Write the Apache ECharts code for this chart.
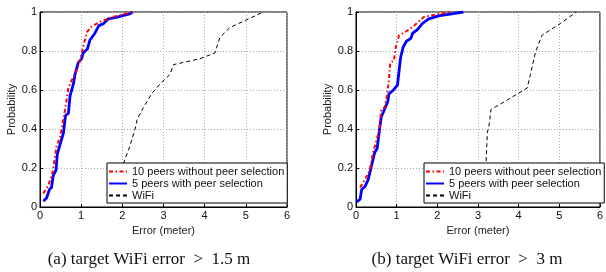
<!DOCTYPE html>
<html><head><meta charset="utf-8">
<script src="https://cdn.jsdelivr.net/npm/echarts@6/dist/echarts.min.js"></script>
<style>html,body{margin:0;padding:0;background:#fff}#c{width:606px;height:272px}</style>
</head><body><div id="c"></div>
<script>
// ---- data ----
const seriesNames = ['10 peers without peer selection', '5 peers with peer selection', 'WiFi'];
const xTicks = [0, 1, 2, 3, 4, 5, 6];
const yTicks = [0, 0.2, 0.4, 0.6, 0.8, 1];
const captions = ['(a) target WiFi error\u2002>\u20021.5 m', '(b) target WiFi error\u2002>\u20023 m'];

// (a) target WiFi error > 1.5 m
const a_peers10 = [[0.08,0.07],[0.2,0.11],[0.31,0.18],[0.4,0.31],[0.49,0.36],[0.61,0.5],[0.69,0.61],[0.77,0.65],[0.87,0.69],[0.97,0.75],[1.07,0.84],[1.15,0.9],[1.25,0.925],[1.46,0.95],[1.78,0.975],[2.06,0.99],[2.25,1.0]];
const a_peers5 = [[0.08,0.03],[0.16,0.046],[0.23,0.09],[0.28,0.1],[0.32,0.16],[0.39,0.19],[0.42,0.27],[0.5,0.33],[0.57,0.38],[0.62,0.47],[0.69,0.48],[0.73,0.57],[0.81,0.63],[0.85,0.68],[0.93,0.74],[1.01,0.76],[1.05,0.79],[1.15,0.81],[1.21,0.855],[1.33,0.89],[1.43,0.93],[1.54,0.94],[1.66,0.965],[1.9,0.975],[1.98,0.98],[2.18,0.99],[2.25,1.0]];
const a_wifi = [[1.8,0.05],[1.95,0.15],[2.04,0.23],[2.18,0.31],[2.31,0.4],[2.36,0.45],[2.51,0.51],[2.71,0.58],[2.91,0.63],[3.16,0.68],[3.24,0.73],[3.56,0.745],[3.88,0.76],[4.25,0.79],[4.37,0.87],[4.61,0.92],[5.02,0.96],[5.42,1.0]];

// (b) target WiFi error > 3 m
const b_peers10 = [[0.1,0.1],[0.22,0.14],[0.34,0.19],[0.42,0.28],[0.5,0.34],[0.58,0.4],[0.62,0.5],[0.7,0.51],[0.76,0.57],[0.81,0.65],[0.84,0.74],[0.93,0.75],[0.98,0.82],[1.06,0.88],[1.23,0.9],[1.43,0.93],[1.67,0.975],[2.03,0.99],[2.31,1.0]];
const b_peers5 = [[0.02,0.026],[0.1,0.04],[0.14,0.09],[0.22,0.105],[0.3,0.14],[0.38,0.21],[0.46,0.28],[0.52,0.3],[0.58,0.4],[0.62,0.46],[0.7,0.5],[0.78,0.54],[0.81,0.58],[0.92,0.6],[1.02,0.625],[1.06,0.7],[1.1,0.77],[1.16,0.82],[1.24,0.85],[1.35,0.865],[1.39,0.89],[1.51,0.91],[1.63,0.94],[1.79,0.965],[2.03,0.98],[2.35,0.99],[2.64,1.0]];
const b_wifi = [[3.15,0.02],[3.19,0.15],[3.2,0.23],[3.23,0.38],[3.28,0.43],[3.32,0.5],[3.65,0.54],[3.97,0.58],[4.21,0.61],[4.29,0.68],[4.41,0.79],[4.57,0.88],[5.02,0.94],[5.42,1.0]];

// ---- chart ----
const FONT = 'Liberation Sans';
const grids = [
  {left: 40, right: 319, top: 12, bottom: 65},
  {left: 356, right: 2, top: 12, bottom: 65}
];
function xAx(i){return {gridIndex:i,type:'value',min:xTicks[0],max:xTicks[xTicks.length-1],interval:1,
  name:'Error (meter)',nameLocation:'middle',nameGap:15,nameTextStyle:{fontFamily:FONT,fontSize:11,color:'#222'},
  axisLine:{show:true,lineStyle:{color:'#000',width:1}},axisTick:{inside:true,length:3,lineStyle:{color:'#000'}},
  axisLabel:{fontFamily:FONT,fontSize:11,color:'#111',margin:3},
  splitLine:{show:true,lineStyle:{color:'#aaa',type:[1,2],width:1}}};}
function yAx(i){return {gridIndex:i,type:'value',min:yTicks[0],max:yTicks[yTicks.length-1],interval:0.2,
  name:'Probability',nameLocation:'middle',nameGap:19,nameTextStyle:{fontFamily:FONT,fontSize:11,color:'#222'},
  axisLine:{show:true,lineStyle:{color:'#000',width:1}},axisTick:{inside:true,length:3,lineStyle:{color:'#000'}},
  axisLabel:{fontFamily:FONT,fontSize:11,color:'#111',margin:3,formatter:v=>String(+v.toFixed(1))},
  splitLine:{show:true,lineStyle:{color:'#aaa',type:[1,2],width:1}}};}
const styles=[
  {color:'#ff0000',width:2,type:[4,2.5,1.5,2.5]},
  {color:'#0000ff',width:2.8,type:'solid'},
  {color:'#000000',width:1,type:[4,3]}
];
function mk(i,data,k){
  return {type:'line',name:seriesNames[k],xAxisIndex:i,yAxisIndex:i,data:data,symbol:'none',
    lineStyle:styles[k],itemStyle:{color:styles[k].color},z:k===1?3:(k===0?4:2),animation:false};
}
function leg(left){return {left:left,top:163,orient:'vertical',width:180,data:seriesNames,
  backgroundColor:'#fff',borderColor:'#000',borderWidth:1,padding:[3,3,2,1],itemGap:1,itemWidth:18,itemHeight:12,
  itemStyle:{opacity:0},
  textStyle:{fontFamily:FONT,fontSize:11,color:'#111'},selectedMode:false};}
const chart = echarts.init(document.getElementById('c'),null,{renderer:'canvas'});
chart.setOption({
  animation:false,
  grid:grids.map(g=>Object.assign({show:true,borderColor:'#000',borderWidth:1,backgroundColor:'transparent'},g)),
  xAxis:[xAx(0),xAx(1)],
  yAxis:[yAx(0),yAx(1)],
  legend:[leg(107),leg(424)],
  series:[mk(0,a_peers10,0),mk(0,a_peers5,1),mk(0,a_wifi,2),mk(1,b_peers10,0),mk(1,b_peers5,1),mk(1,b_wifi,2)],
  graphic:[
    {type:'text',style:{text:captions[0],fontFamily:'Liberation Serif',fontSize:17,fill:'#111',x:149,y:260,textAlign:'center',textVerticalAlign:'middle'}},
    {type:'text',style:{text:captions[1],fontFamily:'Liberation Serif',fontSize:17,fill:'#111',x:467,y:260,textAlign:'center',textVerticalAlign:'middle'}}
  ]
});
</script></body></html>
